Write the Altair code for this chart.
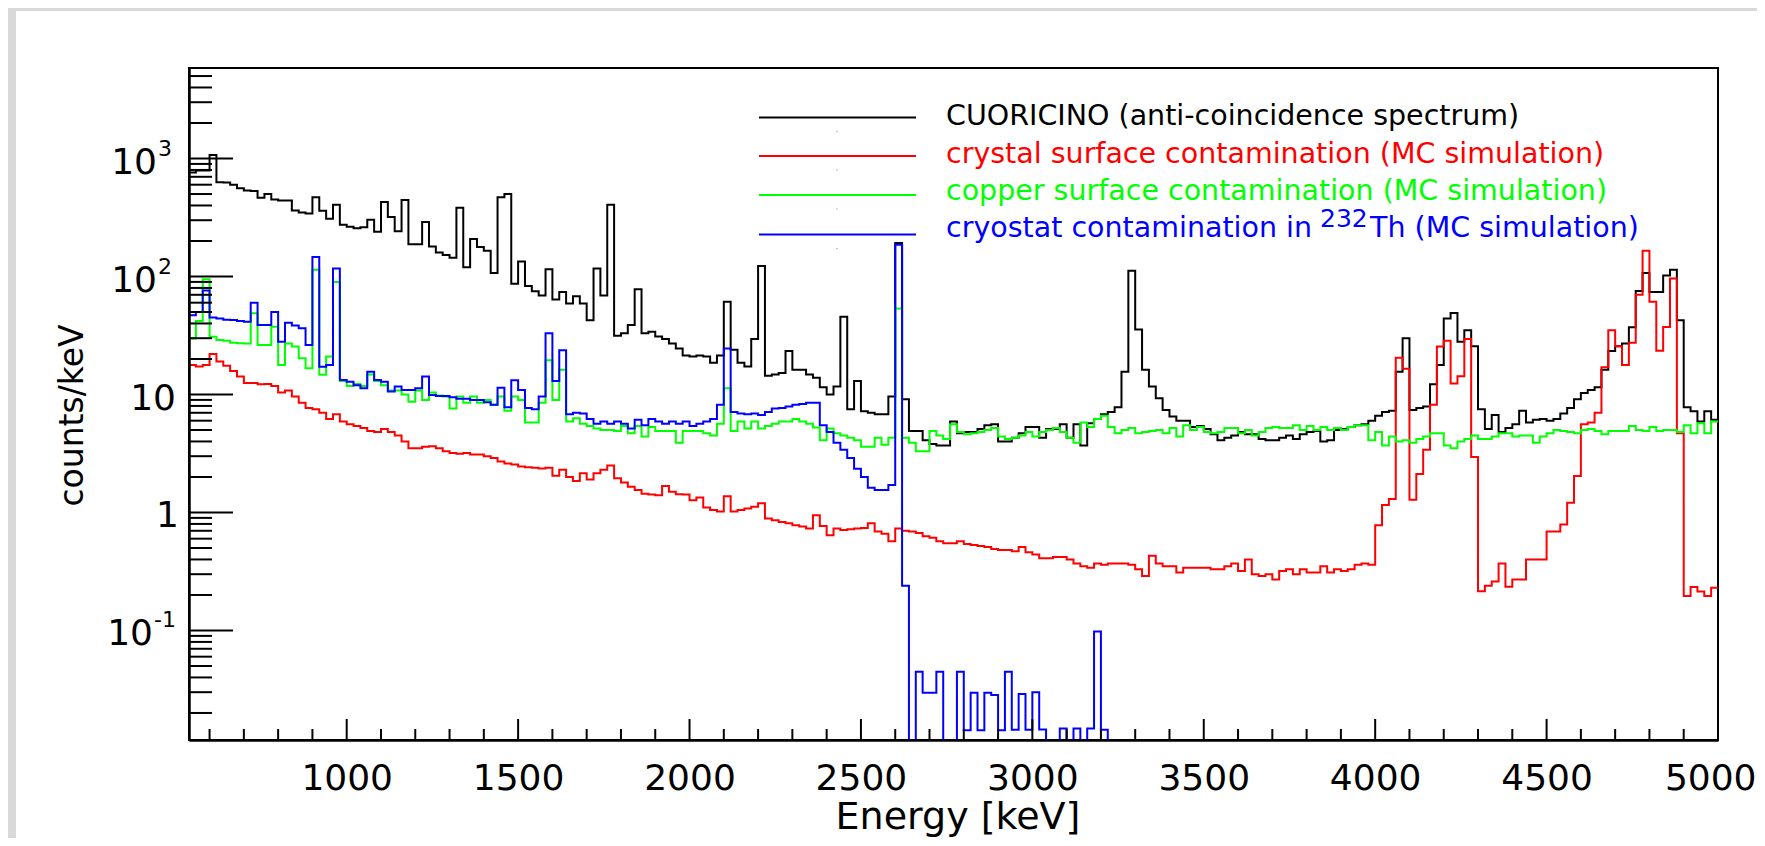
import altair as alt
import pandas as pd

# ---------------- data ----------------
E_START = 540     # keV, lower edge of first histogram bin
BIN_W = 20        # keV per bin
E_END = 5000

# CUORICINO anti-coincidence spectrum (counts/keV), bins from 540 keV
cuoricino = [
    760, 790, 790, 1070, 630, 625, 600, 560, 535, 530,
    465, 500, 450, 440, 440, 362, 348, 342, 470, 360,
    308, 405, 275, 264, 256, 262, 303, 240, 428, 320,
    242, 446, 188, 188, 290, 180, 160, 152, 144, 383,
    120, 208, 178, 165, 107, 470, 500, 87, 134, 83,
    75, 69, 115, 64, 74, 59, 68, 59, 42.5, 117,
    69, 406, 31.4, 33, 38.9, 78, 33, 34, 31, 29.5,
    27, 24.5, 21.4, 21, 21.4, 21, 18.6, 21.4, 61, 24,
    18.6, 17.3, 29.5, 123, 14.4, 14.8, 15.2, 23.4, 16.2, 16.2,
    14.8, 13.9, 11.5, 10, 11.7, 45.6, 7.5, 13, 7.2, 7.0,
    6.8, 6.8, 9.6, 192, 9.1, 4.9, 4.9, 4.1, 3.8, 3.7,
    3.7, 5.9, 4.7, 4.8, 4.8, 5.1, 5.5, 5.6, 4.0, 4.0,
    4.3, 4.7, 5.3, 5.3, 4.3, 5.1, 5.1, 5.6, 4.3, 5.6,
    3.7, 5.7, 6.2, 6.8, 7.1, 7.8, 15.6, 112, 35.6, 16.2,
    11.7, 9.3, 7.4, 6.5, 6.0, 6.0, 5.3, 5.4, 5.1, 4.6,
    4.1, 4.3, 4.5, 4.8, 4.6, 4.6, 4.2, 4.1, 4.1, 4.3,
    4.5, 4.2, 4.6, 4.8, 4.9, 4.0, 4.1, 5.0, 5.1, 5.3,
    5.5, 5.6, 6.0, 6.6, 7.1, 7.3, 15.6, 30, 7.4, 7.7,
    7.9, 12.2, 17.8, 44, 49, 28, 35, 25.6, 7.5, 5.1,
    6.7, 4.8, 5.2, 5.6, 7.3, 5.8, 6.1, 6.2, 6.0, 6.2,
    6.9, 7.7, 9.1, 10.3, 10.9, 11.5, 16.2, 23.4, 25.7, 27,
    37.1, 75.4, 107, 74, 74, 102, 114, 42.5, 7.8, 7.2,
    5.9, 7.2, 6.1,
]

# crystal surface contamination, MC (counts/keV)
crystal = [
    17.8, 17.3, 17.8, 22, 19, 17.5, 15.8, 14.2, 12.5, 12.5,
    12.2, 12.3, 11.8, 10.4, 10.8, 9.6, 8.5, 7.7, 7.5, 7.0,
    6.2, 6.8, 5.9, 5.6, 5.4, 5.2, 4.9, 4.8, 5.1, 4.8,
    4.5, 4.0, 3.5, 3.5, 3.6, 3.65, 3.5, 3.3, 3.2, 3.15,
    3.2, 3.1, 3.1, 3.0, 2.9, 2.7, 2.6, 2.55, 2.45, 2.42,
    2.4, 2.36, 2.4, 2.05, 2.3, 2.0, 1.85, 2.15, 1.9, 2.15,
    2.3, 2.5, 1.95, 1.8, 1.65, 1.55, 1.44, 1.42, 1.40, 1.68,
    1.5, 1.43, 1.42, 1.27, 1.34, 1.1, 1.05, 1.02, 1.37, 1.02,
    1.05, 1.08, 1.12, 1.2, 0.89, 0.86, 0.83, 0.81, 0.78, 0.76,
    0.73, 0.95, 0.77, 0.64, 0.73, 0.71, 0.72, 0.73, 0.74, 0.81,
    0.69, 0.66, 0.57, 0.73, 0.70, 0.69, 0.67, 0.63, 0.61, 0.57,
    0.55, 0.55, 0.57, 0.54, 0.53, 0.52, 0.51, 0.49, 0.48, 0.48,
    0.47, 0.51, 0.46, 0.44, 0.41, 0.41, 0.42, 0.42, 0.40, 0.37,
    0.35, 0.34, 0.37, 0.36, 0.37, 0.37, 0.37, 0.36, 0.33, 0.29,
    0.43, 0.37, 0.35, 0.35, 0.31, 0.34, 0.34, 0.34, 0.34, 0.33,
    0.33, 0.35, 0.37, 0.32, 0.40, 0.30, 0.29, 0.30, 0.27, 0.32,
    0.33, 0.30, 0.33, 0.31, 0.31, 0.35, 0.31, 0.33, 0.32, 0.33,
    0.36, 0.37, 0.36, 0.78, 1.16, 1.3, 20.5, 16.5, 1.28, 2.12,
    3.4, 8.2, 25.5, 28.5, 12.4, 14.3, 29.5, 2.96, 0.215, 0.24,
    0.26, 0.37, 0.235, 0.27, 0.27, 0.40, 0.40, 0.40, 0.69, 0.69,
    0.79, 1.21, 2.04, 5.6, 5.8, 7.0, 17, 35, 25.6, 17.8,
    27.5, 70, 165, 61, 23.5, 37.3, 96, 4.7, 0.196, 0.234,
    0.214, 0.196, 0.23,
]

# copper surface contamination, MC (counts/keV)
copper = [
    29.9, 42, 95, 30.9, 29, 28.5, 27.5, 27.2, 27, 48.8,
    26.3, 26.3, 37.6, 17.8, 27, 25.5, 20.3, 16.7, 114, 14.7,
    21, 90, 13, 11.8, 12.3, 11.8, 14.8, 13, 12, 10.8,
    10.8, 10, 8.7, 10.8, 9.0, 10.4, 9.8, 9.6, 7.6, 9.6,
    8.5, 9.6, 8.5, 9.0, 8.2, 9.6, 7.3, 9.6, 9.0, 5.8,
    5.8, 8.5, 19.5, 9.0, 16.2, 5.9, 6.3, 5.65, 5.4, 5.15,
    5.0, 5.0, 4.9, 5.4, 4.7, 5.4, 4.4, 5.3, 4.9, 4.9,
    4.9, 3.9, 4.9, 4.9, 4.9, 4.7, 4.5, 5.65, 11.3, 4.9,
    5.9, 5.15, 5.9, 5.15, 5.4, 5.65, 5.9, 5.9, 6.2, 5.9,
    5.65, 5.25, 4.1, 5.15, 4.7, 4.5, 4.3, 4.1, 3.6, 3.6,
    4.3, 3.75, 4.3, 53.5, 4.3, 3.9, 3.3, 3.3, 4.9, 4.5,
    4.2, 5.6, 4.8, 4.6, 4.7, 4.8, 5.0, 5.2, 4.4, 4.2,
    4.3, 4.5, 4.8, 4.4, 4.8, 5.0, 5.2, 4.8, 4.3, 3.9,
    5.8, 5.3, 6.2, 6.6, 5.3, 4.7, 5.0, 5.2, 4.7, 4.8,
    4.9, 5.0, 4.7, 5.2, 4.4, 5.5, 5.0, 5.3, 4.8, 4.7,
    4.8, 5.2, 5.2, 4.7, 5.0, 4.5, 4.8, 5.2, 5.3, 5.2,
    5.2, 5.5, 5.0, 5.4, 5.0, 5.3, 5.0, 5.2, 5.0, 5.3,
    5.5, 5.5, 4.1, 4.8, 3.7, 4.4, 4.0, 4.1, 3.9, 4.2,
    4.4, 4.7, 4.7, 3.7, 3.5, 4.0, 4.2, 4.5, 4.2, 4.2,
    4.4, 4.7, 4.7, 4.4, 4.5, 4.5, 3.9, 4.4, 4.7, 5.0,
    4.9, 4.8, 4.7, 5.0, 5.1, 4.9, 4.6, 4.9, 4.9, 4.9,
    5.4, 5.0, 4.9, 5.3, 4.9, 5.0, 5.0, 4.8, 5.5, 4.7,
    5.7, 4.7, 5.9,
]

# cryostat contamination in 232Th, MC (counts/keV); 0 = empty bin
cryostat = [
    47, 50, 76, 45, 44, 43, 42.8, 42, 41.4, 60,
    38.8, 38.8, 50, 28, 40.6, 38.5, 36.4, 26.3, 146, 17.2,
    17.8, 117, 13.3, 12.8, 12, 11.3, 15.6, 13.3, 12.8, 10.6,
    11.7, 10.9, 10.9, 11.3, 14.2, 9.9, 9.7, 9.7, 9.5, 9.2,
    9.2, 9.0, 9.0, 8.6, 8.2, 11.4, 7.8, 13.2, 10.9, 7.7,
    7.5, 9.6, 33, 13, 23.7, 6.8, 7.0, 6.9, 6.2, 5.65,
    5.9, 5.65, 5.9, 5.65, 5.15, 6.1, 5.5, 6.2, 5.9, 5.65,
    5.9, 5.65, 5.9, 5.4, 5.65, 5.9, 6.2, 8.2, 24.6, 7.1,
    6.9, 6.8, 6.9, 6.7, 7.1, 7.6, 7.7, 7.9, 8.2, 8.3,
    8.5, 8.5, 5.5, 4.8, 3.9, 3.4, 2.9, 2.35, 2.0, 1.62,
    1.55, 1.55, 1.71, 186, 0.24, 0, 0.0448, 0.0297, 0.0297, 0.0448,
    0, 0, 0.0448, 0.0143, 0.0297, 0.0143, 0.0297, 0.0284, 0.0143, 0.0448,
    0.0144, 0.029, 0.0144, 0.030, 0.0145, 0, 0, 0.0148, 0, 0.0148,
    0, 0.0148, 0.098, 0.0144, 0,
]

series = [
    ("CUORICINO", cuoricino, "#000000"),
    ("crystal", crystal, "#ff0000"),
    ("copper", copper, "#00ff00"),
    ("cryostat", cryostat, "#0000ff"),
]

legend_labels = [
    "CUORICINO (anti-coincidence spectrum)",
    "crystal surface contamination (MC simulation)",
    "copper surface contamination (MC simulation)",
]
cryostat_label = ["cryostat contamination in ", "232", "Th (MC simulation)"]
legend_colors = ["#000000", "#ff0000", "#00ff00", "#0000ff"]

x_label_values = [1000, 1500, 2000, 2500, 3000, 3500, 4000, 4500, 5000]
x_minor_values = [v for v in range(600, 5000, 100) if v % 500 != 0]
y_label_values = [0.1, 1, 10, 100, 1000]
y_label_mantissa = ["10", "1", "10", "10", "10"]
y_label_exponent = ["-1", "", "", "2", "3"]
y_minor_values = [k * 10.0 ** e for e in range(-2, 4) for k in range(2, 10)
                  if 0.0118 < k * 10.0 ** e < 5850]

X_DOMAIN = [540, 5000]
Y_DOMAIN = [0.0118, 5850]

# ---------------- layout ----------------
W, H = 1529, 672
PAD = {"left": 181, "top": 60, "right": 39, "bottom": 98}
FONT = "DejaVu Sans"

xs = alt.Scale(domain=X_DOMAIN, nice=False, zero=False)
ys = alt.Scale(type="log", domain=Y_DOMAIN, nice=False, clamp=True)

x_axis = alt.Axis(
    values=x_label_values, format="d", labelFont=FONT, labelFontSize=36,
    labelColor="black", labelPadding=21, ticks=False, tickSize=0,
    domain=True, domainColor="black", domainWidth=2.5, grid=False,
    labelFlush=1, labelFlushOffset=38, labelOverlap=False,
    title="Energy [keV]", titleFont=FONT, titleFontSize=38,
    titleFontWeight="normal", titleColor="black", titleX=W / 2 + 4,
    titleY=88, titleBaseline="alphabetic", zindex=1,
)
y_axis = alt.Axis(
    values=y_label_values, labels=False,
    ticks=False, tickSize=0, domain=True, domainColor="black",
    domainWidth=2.5, grid=False,
    title="counts/keV", titleFont=FONT, titleFontSize=33,
    titleFontWeight="normal", titleColor="black", titleAngle=270,
    titleX=-107, titleY=347, titleAlign="center",
    titleBaseline="alphabetic", zindex=1,
)


def hist_df(vals, name):
    n = len(vals)
    xs_ = [E_START + BIN_W * i for i in range(n)] + [E_START + BIN_W * n]
    return pd.DataFrame({"E": xs_, "v": list(vals) + [vals[-1]], "s": name})


one = pd.DataFrame({"a": [0]})
layers = []

# histograms (the same axis definition on every layer so they merge cleanly)
for i, (name, vals, col) in enumerate(series):
    layers.append(
        alt.Chart(hist_df(vals, name))
        .transform_calculate(vv="max(datum.v, 0.0001)")
        .mark_line(interpolate="step-after", strokeWidth=2, color=col, clip=True)
        .encode(
            x=alt.X("E:Q", scale=xs, axis=x_axis),
            y=alt.Y("vv:Q", scale=ys, axis=y_axis),
        )
    )

# inside tick marks (ROOT style)
tick_style = dict(color="black", strokeWidth=2)
layers.append(alt.Chart(pd.DataFrame({"E": x_label_values})).mark_rule(**tick_style)
              .encode(x=alt.X("E:Q", scale=xs, axis=x_axis), y=alt.value(H), y2=alt.value(H - 21)))
layers.append(alt.Chart(pd.DataFrame({"E": x_minor_values})).mark_rule(**tick_style)
              .encode(x=alt.X("E:Q", scale=xs, axis=x_axis), y=alt.value(H), y2=alt.value(H - 11)))
layers.append(alt.Chart(pd.DataFrame({"vv": y_label_values})).mark_rule(**tick_style)
              .encode(y=alt.Y("vv:Q", scale=ys, axis=y_axis), x=alt.value(0), x2=alt.value(44)))
layers.append(alt.Chart(pd.DataFrame({"vv": y_minor_values})).mark_rule(**tick_style)
              .encode(y=alt.Y("vv:Q", scale=ys, axis=y_axis), x=alt.value(0), x2=alt.value(23)))

# y tick labels: "10" with a raised exponent, as in the original
for val, man, ex in zip(y_label_values, y_label_mantissa, y_label_exponent):
    d = pd.DataFrame({"vv": [val]})
    if ex:
        right = -36 if ex.startswith("-") else -32
        layers.append(alt.Chart(d).mark_text(font=FONT, fontSize=36, align="right",
                                             baseline="middle", dy=4, color="black")
                      .encode(y=alt.Y("vv:Q", scale=ys, axis=y_axis), x=alt.value(right),
                              text=alt.value(man)))
        layers.append(alt.Chart(d).mark_text(font=FONT, fontSize=22, align="left",
                                             baseline="middle", dy=-10, color="black")
                      .encode(y=alt.Y("vv:Q", scale=ys, axis=y_axis), x=alt.value(right + 1),
                              text=alt.value(ex)))
    else:
        right = -10 if man == "1" else -13
        layers.append(alt.Chart(d).mark_text(font=FONT, fontSize=36, align="right",
                                             baseline="middle", dy=4, color="black")
                      .encode(y=alt.Y("vv:Q", scale=ys, axis=y_axis), x=alt.value(right),
                              text=alt.value(man)))

# gray page border (top and left strips)
for x1, x2, y1, y2 in [(-181, 1568, -60, -57), (-181, -173, -60, 770)]:
    layers.append(alt.Chart(one).mark_rect(color="#d9d9d9").encode(
        x=alt.value(x1), x2=alt.value(x2), y=alt.value(y1), y2=alt.value(y2)))

# legend
line_y = [49.5, 88, 127, 166.5]
text_y = [57, 95, 132, 169]
TX = 757
for k in range(4):
    layers.append(alt.Chart(one).mark_rule(color=legend_colors[k], strokeWidth=2).encode(
        x=alt.value(570), x2=alt.value(727), y=alt.value(line_y[k])))
    layers.append(alt.Chart(one).mark_point(filled=True, size=3, color="#999999", opacity=0.7).encode(
        x=alt.value(648), y=alt.value(line_y[k] + 14)))
text_style = dict(font=FONT, fontSize=28.5, align="left", baseline="alphabetic")
for k in range(3):
    layers.append(alt.Chart(one).mark_text(color=legend_colors[k], **text_style).encode(
        x=alt.value(TX), y=alt.value(text_y[k]), text=alt.value(legend_labels[k])))
layers.append(alt.Chart(one).mark_text(color=legend_colors[3], **text_style).encode(
    x=alt.value(TX), y=alt.value(text_y[3]), text=alt.value(cryostat_label[0])))
layers.append(alt.Chart(one).mark_text(color=legend_colors[3], font=FONT, fontSize=25,
                                       align="left", baseline="alphabetic").encode(
    x=alt.value(TX + 374), y=alt.value(text_y[3] - 10), text=alt.value(cryostat_label[1])))
layers.append(alt.Chart(one).mark_text(color=legend_colors[3], **text_style).encode(
    x=alt.value(TX + 424), y=alt.value(text_y[3]), text=alt.value(cryostat_label[2])))

chart = (
    alt.layer(*layers)
    .properties(width=W, height=H, padding=PAD,
                autosize=alt.AutoSizeParams(type="none"), background="white")
    .configure_view(stroke="black", strokeWidth=2)
)

chart.save("out.html", embed_options={"renderer": "svg", "actions": False})
